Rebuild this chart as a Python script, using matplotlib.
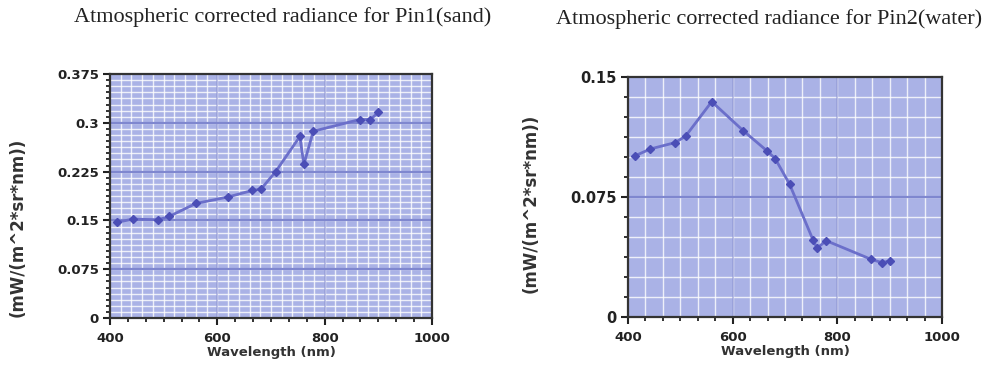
import numpy as np
import matplotlib.pyplot as plt
from matplotlib.ticker import MultipleLocator

# MERIS band centres (nm)
wavelength = [412.5, 442.5, 490, 510, 560, 620, 665, 681.25, 708.75,
              753.75, 761.25, 778.75, 865, 885, 900]

# radiance
sand = [0.147, 0.152, 0.151, 0.156, 0.176, 0.186, 0.196, 0.198, 0.225,
        0.279, 0.236, 0.287, 0.305, 0.305, 0.316]
water = [0.1006, 0.105, 0.109, 0.113, 0.1346, 0.1165, 0.104, 0.099, 0.083,
         0.048, 0.043, 0.0477, 0.036, 0.034, 0.035]

titles = ["Atmospheric corrected radiance for Pin1(sand)",
          "Atmospheric corrected radiance for Pin2(water)"]
xlabel = "Wavelength (nm)"
ylabel = "(mW/(m^2*sr*nm))"

left_yticks = [0, 0.075, 0.15, 0.225, 0.3, 0.375]
left_ylabels = ["0", "0.075", "0.15", "0.225", "0.3", "0.375"]
right_yticks = [0, 0.075, 0.15]
right_ylabels = ["0", "0.075", "0.15"]
xticks = [400, 600, 800, 1000]

bg = '#aab2e6'
line_c = '#6b6fca'
mark_c = '#4b4eb6'
major_c = '#7f87cf'

W, H = 992, 367
fig = plt.figure(figsize=(W / 100, H / 100), dpi=100)

ax1 = fig.add_axes([110 / W, (H - 318) / H, 322 / W, 244 / H])
ax2 = fig.add_axes([628 / W, (H - 317) / H, 314 / W, 240 / H])


def style(ax, yticks, ylabels, ymax, yminor, xgrid, ygrid, xsize, ysize):
	ax.set_facecolor(bg)
	ax.set_xlim(400, 1000)
	ax.set_ylim(0, ymax)
	ax.set_xticks(xticks)
	ax.set_xticklabels([str(t) for t in xticks])
	ax.set_yticks(yticks)
	ax.set_yticklabels(ylabels)
	ax.xaxis.set_minor_locator(MultipleLocator(200 / 6))
	ax.yaxis.set_minor_locator(MultipleLocator(yminor))
	# white grid
	for g in xgrid:
		ax.axvline(g, color='white', lw=1.0, alpha=0.8, zorder=0.5)
	for g in ygrid:
		ax.axhline(g, color='white', lw=1.0, alpha=0.8, zorder=0.5)
	for t in yticks[1:-1]:
		ax.axhline(t, color=major_c, lw=1.6, zorder=0.6)
	for t in xticks[1:-1]:
		ax.axvline(t, color=major_c, lw=1.2, alpha=0.6, zorder=0.6)
	ax.tick_params(which='major', direction='out', length=5, width=1.5,
	               color='#222222', pad=3)
	ax.tick_params(which='minor', direction='out', length=3, width=1.3,
	               color='#222222')
	ax.tick_params(axis='x', labelsize=xsize, pad=5)
	ax.tick_params(axis='y', labelsize=ysize)
	for lab in ax.get_xticklabels() + ax.get_yticklabels():
		lab.set_fontweight('bold')
		lab.set_color('#222222')
	for s in ax.spines.values():
		s.set_color('#333333')
		s.set_linewidth(1.6)
	ax.set_xlabel(xlabel, fontsize=9.5, fontweight='bold', color='#333333', labelpad=1)


style(ax1, left_yticks, left_ylabels, 0.375, 0.075 / 8,
      np.arange(420, 1000, 20), np.arange(0.075 / 8, 0.375, 0.075 / 8), 9.5, 9.5)
style(ax2, right_yticks, right_ylabels, 0.15, 0.0125,
      np.arange(400 + 200 / 6, 1000, 200 / 6), np.arange(0.0125, 0.15, 0.0125), 9.5, 10.5)

ax1.plot(wavelength, sand, color=line_c, lw=2, marker='D', ms=4,
         mfc=mark_c, mec=mark_c, zorder=3)
ax2.plot(wavelength, water, color=line_c, lw=2, marker='D', ms=4,
         mfc=mark_c, mec=mark_c, zorder=3)

ax1.set_ylabel(ylabel, fontsize=12, fontweight='bold', color='#333333')
ax2.set_ylabel(ylabel, fontsize=12, fontweight='bold', color='#333333')
ax1.yaxis.set_label_coords(-0.258, 0.37)
ax2.yaxis.set_label_coords(-0.28, 0.475)

fig.text(283 / W, 1 - 17 / H, titles[0], family='Liberation Serif', fontsize=16,
         ha='center', va='center', color='#222222')
fig.text(769 / W, 1 - 19 / H, titles[1], family='Liberation Serif', fontsize=16,
         ha='center', va='center', color='#222222')

fig.savefig('out.png', dpi=100)
